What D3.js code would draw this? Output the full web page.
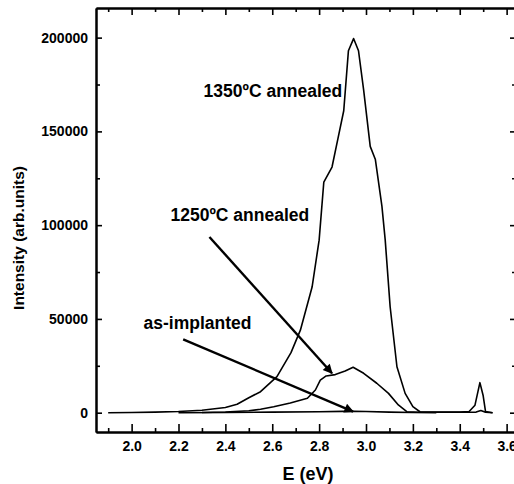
<!DOCTYPE html>
<html>
<head>
<meta charset="utf-8">
<script src="https://cdn.jsdelivr.net/npm/d3@7"></script>
<style>
  body { margin: 0; background: #fff; }
  svg { display: block; font-family: "Liberation Sans", Arial, sans-serif; }
  .axis text { font-size: 14px; font-weight: bold; fill: #000; }
  .axis path, .axis line { stroke: #000; }
</style>
</head>
<body>
<div id="chart"></div>
<script>
// Size of the picture
const width = 514;
const height = 484;
const margin = { top: 8, right: -2, bottom: 52, left: 96 };

// PL spectra (E in eV, intensity in arb. units)
const e1350 = [1.90, 2.00, 2.10, 2.20, 2.30, 2.40, 2.45, 2.50, 2.55, 2.62, 2.68, 2.72, 2.77, 2.80, 2.82, 2.855, 2.88, 2.905, 2.925, 2.947, 2.968, 2.99, 3.018, 3.04, 3.068, 3.082, 3.103, 3.132, 3.167, 3.20, 3.23, 3.30, 3.40, 3.44, 3.465, 3.486, 3.50, 3.51, 3.54];
const i1350 = [0, 100, 300, 600, 1300, 2800, 4500, 8000, 11200, 19200, 32000, 44000, 67000, 92000, 123000, 131000, 146000, 161000, 193000, 199500, 193000, 172000, 142000, 135000, 110000, 92000, 56500, 24500, 10300, 3200, 500, 300, 300, 600, 4000, 16000, 9000, 600, 0];

const e1250 = [2.30, 2.40, 2.50, 2.55, 2.606, 2.677, 2.75, 2.784, 2.805, 2.83, 2.869, 2.911, 2.945, 2.99, 3.046, 3.096, 3.138, 3.174, 3.23, 3.40, 3.47, 3.49, 3.51, 3.54];
const i1250 = [100, 400, 1000, 1800, 3200, 5200, 7700, 12100, 17400, 19600, 20300, 22200, 24200, 21000, 15700, 10300, 4100, 500, 200, 200, 300, 1200, 200, 0];

const eAsImpl = [2.20, 2.40, 2.60, 2.80, 2.90, 2.95, 3.00, 3.10, 3.20, 3.30];
const iAsImpl = [0, 100, 300, 500, 700, 700, 600, 300, 100, 0];

// Tick values
const xMajor = [2.0, 2.2, 2.4, 2.6, 2.8, 3.0, 3.2, 3.4, 3.6];
const xMinor = [1.9, 2.1, 2.3, 2.5, 2.7, 2.9, 3.1, 3.3, 3.5];
const yMajor = [0, 50000, 100000, 150000, 200000];
const yMinor = [25000, 75000, 125000, 175000];

// Labels with their arrows, in data units
const labels = ["1350\u00baC annealed", "1250\u00baC annealed", "as-implanted"];
const labelE = [2.307, 2.166, 2.051];
const labelI = [168600, 102200, 44600];
const arrowFrom = [null, [2.332, 93700], [2.22, 39100]];
const arrowTo = [null, [2.855, 21000], [2.945, 600]];

const x = d3.scaleLinear()
    .domain([1.848, 3.64])
    .range([margin.left, width - margin.right]);

const y = d3.scaleLinear()
    .domain([-10300, 215800])
    .range([height - margin.bottom, margin.top]);

const svg = d3.select("#chart")
    .append("svg")
    .attr("width", width)
    .attr("height", height);

svg.append("defs").append("marker")
    .attr("id", "head")
    .attr("viewBox", "0 0 10 10")
    .attr("refX", 9)
    .attr("refY", 5)
    .attr("markerWidth", 5)
    .attr("markerHeight", 4)
    .attr("markerUnits", "strokeWidth")
    .attr("orient", "auto")
    .append("path")
    .attr("d", "M0,0L10,5L0,10z")
    .attr("fill", "#000");

const bottom = height - margin.bottom;
const right = width - margin.right;

// Axes, ticks pointing inward
function drawAxis(axis, transform) {
    const g = svg.append("g")
        .attr("class", "axis")
        .attr("transform", transform)
        .call(axis);
    g.select(".domain").attr("stroke-width", 2);
    g.selectAll(".tick line").attr("stroke-width", 1.6);
    return g;
}

drawAxis(d3.axisBottom(x).tickValues(xMajor).tickFormat(d3.format(".1f"))
    .tickSizeInner(-8).tickSizeOuter(0).tickPadding(9.5), `translate(0,${bottom})`);
drawAxis(d3.axisBottom(x).tickValues(xMinor).tickFormat("")
    .tickSizeInner(-4).tickSizeOuter(0), `translate(0,${bottom})`);
drawAxis(d3.axisTop(x).tickValues(xMajor).tickFormat("")
    .tickSizeInner(-7).tickSizeOuter(0), `translate(0,${margin.top})`);
drawAxis(d3.axisTop(x).tickValues(xMinor).tickFormat("")
    .tickSizeInner(-4).tickSizeOuter(0), `translate(0,${margin.top})`);

drawAxis(d3.axisLeft(y).tickValues(yMajor).tickFormat(d3.format("d"))
    .tickSizeInner(-6).tickSizeOuter(0).tickPadding(8), `translate(${margin.left},0)`);
drawAxis(d3.axisLeft(y).tickValues(yMinor).tickFormat("")
    .tickSizeInner(-4).tickSizeOuter(0), `translate(${margin.left},0)`);
drawAxis(d3.axisRight(y).tickValues(yMajor).tickFormat("")
    .tickSizeInner(-6).tickSizeOuter(0), `translate(${right},0)`);
drawAxis(d3.axisRight(y).tickValues(yMinor).tickFormat("")
    .tickSizeInner(-4).tickSizeOuter(0), `translate(${right},0)`);

// Spectra
const line = d3.line()
    .x(d => x(d[0]))
    .y(d => y(d[1]));

const series = [
    d3.zip(e1350, i1350),
    d3.zip(e1250, i1250),
    d3.zip(eAsImpl, iAsImpl)
];

svg.append("g")
    .selectAll("path")
    .data(series)
    .enter()
    .append("path")
    .attr("d", line)
    .attr("fill", "none")
    .attr("stroke", "#000")
    .attr("stroke-width", 1.6)
    .attr("stroke-linejoin", "round");

// Labels
svg.append("g")
    .selectAll("text")
    .data(labels)
    .enter()
    .append("text")
    .attr("x", (d, i) => x(labelE[i]))
    .attr("y", (d, i) => y(labelI[i]))
    .attr("font-size", "17.5px")
    .attr("font-weight", "bold")
    .text(d => d);

// Arrows
svg.append("g")
    .selectAll("line")
    .data(d3.range(labels.length).filter(i => arrowFrom[i]))
    .enter()
    .append("line")
    .attr("x1", i => x(arrowFrom[i][0]))
    .attr("y1", i => y(arrowFrom[i][1]))
    .attr("x2", i => x(arrowTo[i][0]))
    .attr("y2", i => y(arrowTo[i][1]))
    .attr("stroke", "#000")
    .attr("stroke-width", 2.4)
    .attr("marker-end", "url(#head)");

// Axis titles
svg.append("text")
    .attr("x", 308)
    .attr("y", 480)
    .attr("text-anchor", "middle")
    .attr("font-size", "18px")
    .attr("font-weight", "bold")
    .text("E (eV)");

svg.append("text")
    .attr("transform", "translate(24,238) rotate(-90)")
    .attr("text-anchor", "middle")
    .attr("font-size", "15.5px")
    .attr("font-weight", "bold")
    .text("Intensity (arb.units)");
</script>
</body>
</html>
